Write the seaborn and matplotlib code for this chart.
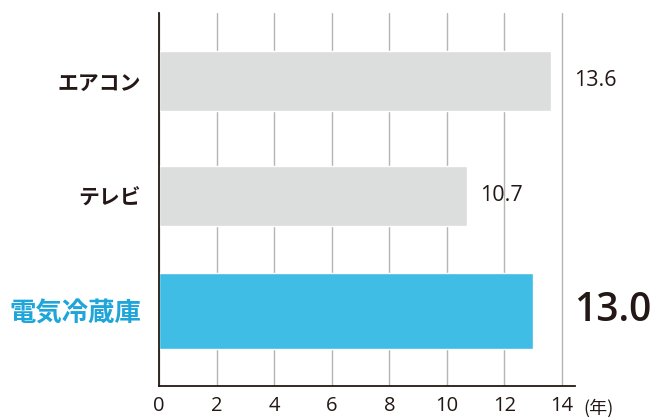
import numpy as np
import pandas as pd
import matplotlib
matplotlib.use('Agg')
import matplotlib.pyplot as plt
import matplotlib.transforms as mtransforms
import seaborn as sns

# chart data
categories = ['エアコン', 'テレビ', '電気冷蔵庫']
years = [13.6, 10.7, 13.0]
value_labels = ['13.6', '10.7', '13.0']
x_ticks = [0, 2, 4, 6, 8, 10, 12, 14]
unit_label = '(年)'

gray = '#dcdddd'
cyan = '#3fbde4'
cyan_text = '#1ea6da'
dark = '#231815'
num_font = ['Open Sans', 'Noto Sans CJK JP', 'DejaVu Sans']

sns.set_theme(style='white')
plt.rcParams['font.family'] = ['Noto Sans CJK JP', 'DejaVu Sans']

df = pd.DataFrame({'item': categories, 'years': years})

fig = plt.figure(figsize=(6.54, 4.17), dpi=100)
ax = fig.add_axes([159 / 654, 1 - 386 / 417, (575 - 159) / 654, (386 - 13) / 417])

sns.barplot(data=df, x='years', y='item', hue='item',
            palette=[gray, gray, cyan], saturation=1, width=0.52,
            legend=False, ax=ax, zorder=2)

# highlighted bar is drawn a bit thicker
hl = ax.patches[2]
new_h = 0.66
hl.set_y(hl.get_y() + hl.get_height() / 2 - new_h / 2)
hl.set_height(new_h)

ax.set_xlim(0, 14.45)
ax.set_ylim(2.652, -0.591)
ax.set_xticks(x_ticks)
ax.set_xticklabels([str(t) for t in x_ticks])
ax.xaxis.grid(True, color='#b5b5b5', linewidth=1.0, zorder=0)
ax.yaxis.grid(False)
ax.set_axisbelow(True)
ax.set_xlabel('')
ax.set_ylabel('')

for side in ['top', 'right']:
    ax.spines[side].set_visible(False)
ax.spines['left'].set_color(dark)
ax.spines['left'].set_linewidth(1.3)
ax.spines['bottom'].set_color(dark)
ax.spines['bottom'].set_linewidth(1.3)

ax.tick_params(axis='x', length=0, pad=7, labelsize=14.5, labelcolor=dark)
ax.tick_params(axis='y', length=0, pad=13)
for lbl in ax.get_xticklabels():
    lbl.set_family(num_font)

for lbl in ax.get_yticklabels():
    lbl.set_fontweight('bold')
    if lbl.get_text() == '電気冷蔵庫':
        lbl.set_color(cyan_text)
        lbl.set_fontsize(19)
    else:
        lbl.set_color(dark)
        lbl.set_fontsize(15)

# value labels
label_x = [14.4, 10.7 + 0.45, 14.4]
for i, (v, txt) in enumerate(zip(years, value_labels)):
    if i == 2:
        ax.text(label_x[i], i, txt, ha='left', va='center', fontsize=28,
                fontweight='semibold', color=dark, family=num_font)
    else:
        ax.text(label_x[i], i, txt, ha='left', va='center', fontsize=15.5,
                color=dark, family=num_font)

# unit label next to the last tick
trans = mtransforms.blended_transform_factory(ax.transData, ax.transAxes)
ax.text(14.75, -0.058, unit_label, transform=trans, ha='left', va='center',
        fontsize=13, color=dark, clip_on=False)

fig.savefig('out.png', dpi=100)
